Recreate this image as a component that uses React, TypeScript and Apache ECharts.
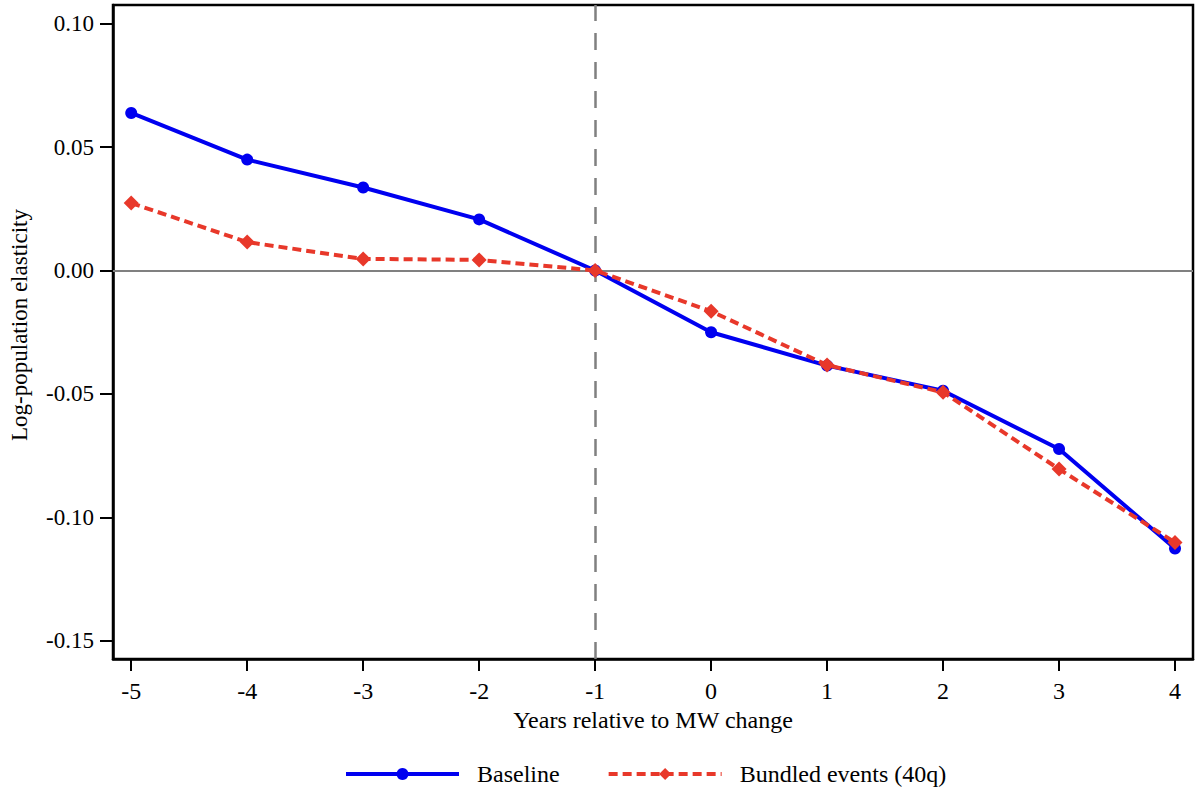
import React, { useEffect, useRef } from "react";
import * as echarts from "echarts";

const years = [-5, -4, -3, -2, -1, 0, 1, 2, 3, 4];
const baseline = [0.0638, 0.0449, 0.0336, 0.0207, 0.0, -0.025, -0.0385, -0.0487, -0.0723, -0.1126];
const bundled = [0.0273, 0.0115, 0.0047, 0.0043, 0.0, -0.0165, -0.0383, -0.0493, -0.0804, -0.1101];
const yTicks = [-0.15, -0.1, -0.05, 0.0, 0.05, 0.1];
const seriesNames = ["Baseline", "Bundled events (40q)"];
const xTitle = "Years relative to MW change";
const yTitle = "Log-population elasticity";

const FONT = "'Liberation Serif', 'Times New Roman', serif";

export default function App() {
  const ref = useRef<HTMLDivElement>(null);
  useEffect(() => {
    document.body.style.margin = "0";
    const chart = echarts.init(ref.current!, null, { renderer: "svg" });
    const toPairs = (vals: number[]) => years.map((x, i) => [x, vals[i]]);
    chart.setOption({
      animation: false,
      backgroundColor: "#ffffff",
      textStyle: { fontFamily: FONT },
      grid: {
        left: 110,
        right: 7,
        top: 5,
        bottom: 134,
        show: true,
        borderColor: "#000",
        borderWidth: 2.5,
        backgroundColor: "transparent",
      },
      legend: {
        left: 339,
        top: 757,
        itemWidth: 113,
        itemHeight: 15,
        itemGap: 47,
        lineStyle: { width: 4 },
        textStyle: { fontFamily: FONT, fontSize: 24, color: "#000", padding: [0, 0, 0, 13] },
        data: seriesNames,
      },
      xAxis: {
        type: "value",
        min: -5.157,
        max: 4.155,
        name: xTitle,
        nameLocation: "middle",
        nameGap: 45,
        nameTextStyle: { fontFamily: FONT, fontSize: 24, color: "#000" },
        axisLine: { show: true, onZero: false, lineStyle: { color: "#000", width: 2.5 } },
        axisTick: { show: true, length: 12, lineStyle: { color: "#000", width: 2 }, customValues: years },
        axisLabel: {
          fontFamily: FONT,
          fontSize: 24,
          color: "#000",
          margin: 20,
          customValues: years,
          formatter: (v: number) => String(v),
        },
        splitLine: { show: false },
      },
      yAxis: {
        type: "value",
        min: -0.1573,
        max: 0.1075,
        name: yTitle,
        nameLocation: "middle",
        nameGap: 82,
        nameTextStyle: { fontFamily: FONT, fontSize: 23, color: "#000", padding: [0, 0, 0, 14] },
        axisLine: { show: true, onZero: false, lineStyle: { color: "#000", width: 2.5 } },
        axisTick: { show: true, length: 13, lineStyle: { color: "#000", width: 2 }, customValues: yTicks },
        axisLabel: {
          fontFamily: FONT,
          fontSize: 23,
          color: "#000",
          margin: 19,
          customValues: yTicks,
          formatter: (v: number) => v.toFixed(2),
        },
        splitLine: { show: false },
      },
      series: [
        {
          name: seriesNames[0],
          type: "line",
          data: toPairs(baseline),
          symbol: "circle",
          symbolSize: 12,
          itemStyle: { color: "#0000f0" },
          lineStyle: { color: "#0000f0", width: 4 },
          z: 3,
          markLine: {
            silent: true,
            symbol: "none",
            label: { show: false },
            z: 1,
            data: [
              { yAxis: 0, lineStyle: { color: "#808080", width: 2, type: "solid" } },
              { xAxis: -1, lineStyle: { color: "#808080", width: 2.5, type: [17, 12] } },
            ],
          },
        },
        {
          name: seriesNames[1],
          type: "line",
          data: toPairs(bundled),
          symbol: "diamond",
          symbolSize: 15,
          itemStyle: { color: "#e8382a" },
          lineStyle: { color: "#e8382a", width: 4, type: [9, 5] },
          z: 4,
        },
      ],
    });
    return () => chart.dispose();
  }, []);
  return <div ref={ref} style={{ width: 1200, height: 793 }} />;
}
